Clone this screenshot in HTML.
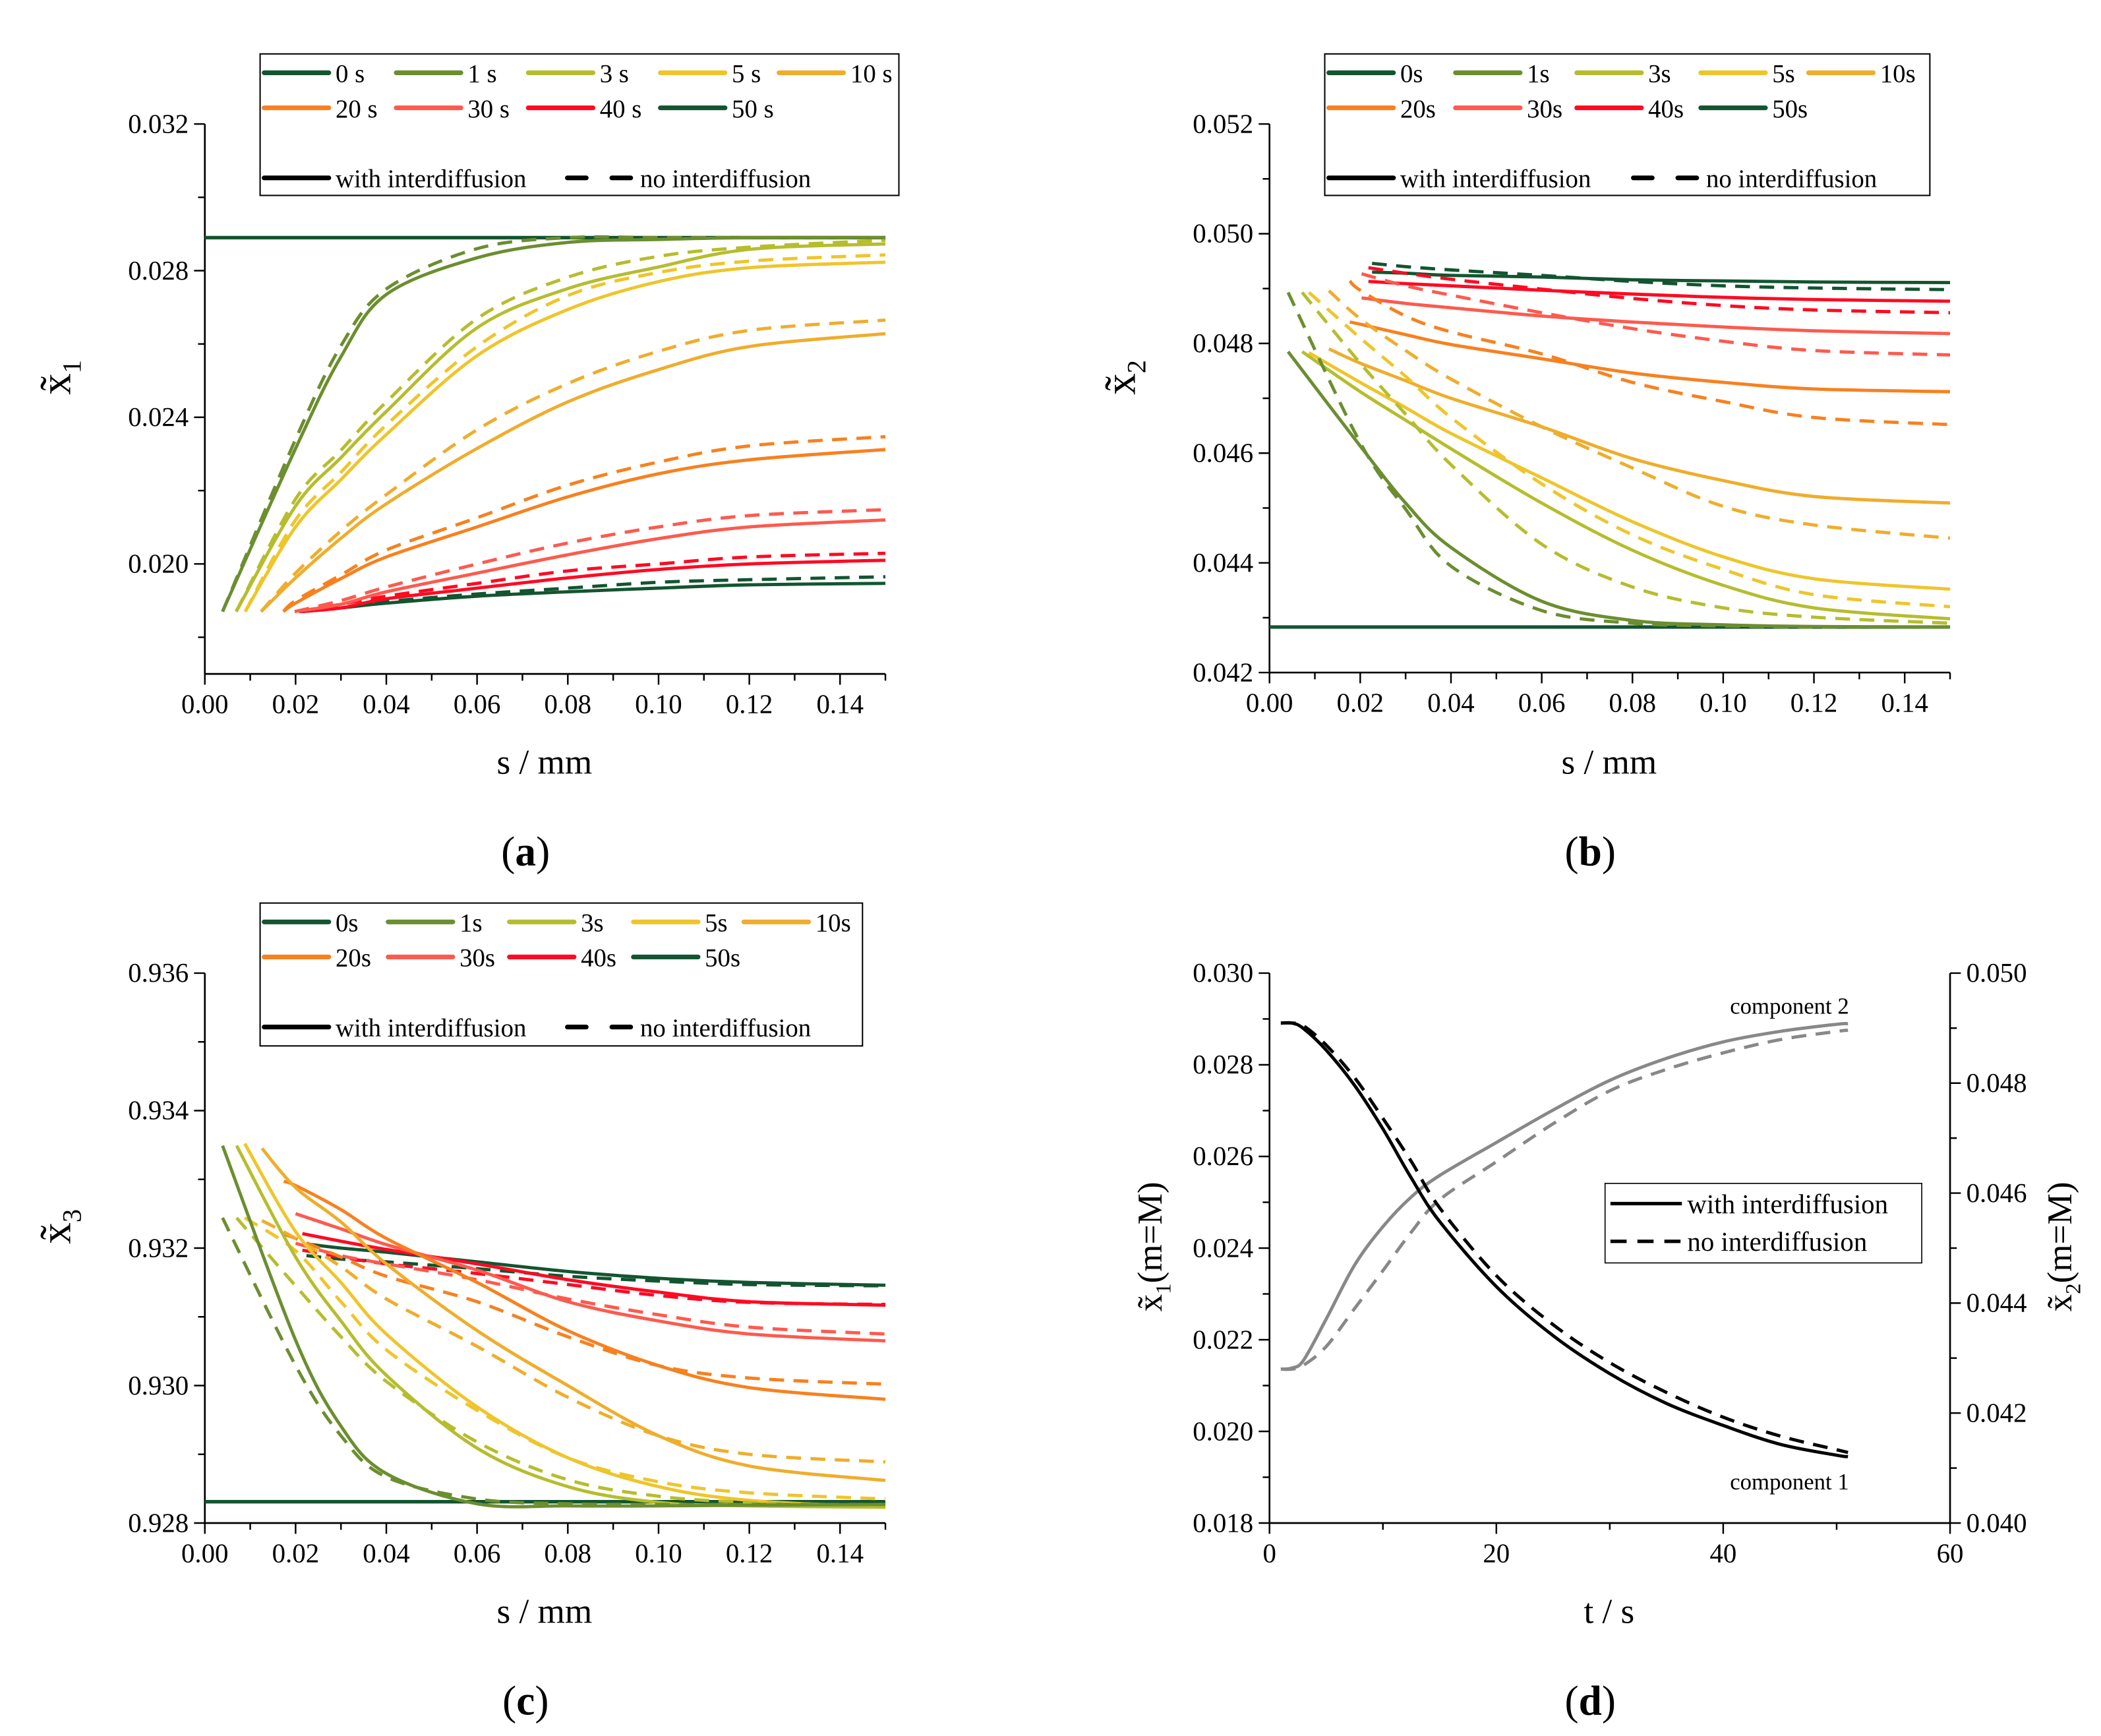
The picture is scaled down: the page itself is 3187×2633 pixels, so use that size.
<!DOCTYPE html>
<html><head><meta charset="utf-8"><style>
html,body{margin:0;padding:0;background:#fff;}
svg{display:block;}
text{font-family:"Liberation Serif","Times New Roman",serif;fill:#000;}
</style></head><body>
<svg id="fig" width="3187" height="2633" viewBox="0 0 1559 1288" preserveAspectRatio="none" xmlns="http://www.w3.org/2000/svg" font-family="Liberation Serif, serif">
<rect x="0" y="0" width="1559" height="1288" fill="#fff"/>
</svg>
<script>
// ---------- shared data ----------
const timeLabels = ["1","3","5","10","20","30","40","50"];
const sGrid = [0.02,0.03,0.04,0.06,0.08,0.10,0.12,0.15];
// panel (a) x1
const aStartS = [0.0039,0.0069,0.0089,0.0124,0.0173,0.0198,0.0208,0.0215];
const aStartSolid = [0.0187,0.0187,0.0187,0.0187,0.0187,0.0187,0.0187,0.0187];
const aStartDash = [0.0187,0.0187,0.0187,0.0187,0.0187,0.0187,0.0187,0.0187];
const aInitial = 0.0289;
const aSolid = [
 [0.02315,0.02565,0.02735,0.02835,0.02877,0.02885,0.0289,0.0289],
 [0.02158,0.0229,0.02416,0.02644,0.02751,0.0281,0.02858,0.02873],
 [0.02101,0.0223,0.02353,0.02568,0.02694,0.0277,0.02808,0.02823],
 [0.01962,0.0207,0.02164,0.02315,0.02442,0.0253,0.02593,0.02628],
 [0.01893,0.0196,0.02019,0.02101,0.02183,0.02246,0.02284,0.02312],
 [null,0.0189,0.01924,0.01975,0.02025,0.02069,0.02101,0.0212],
 [null,0.0188,0.01905,0.01934,0.01962,0.01985,0.02,0.0201],
 [null,0.0188,0.01893,0.01912,0.01924,0.01934,0.01943,0.01947]];
const aDash = [
 [0.0234,0.02595,0.0275,0.0286,0.0289,0.0289,0.0289,0.0289],
 [0.02177,0.0231,0.02442,0.02669,0.02782,0.02839,0.02864,0.02883],
 [0.0212,0.0225,0.02379,0.02593,0.02732,0.02795,0.02826,0.02843],
 [0.01975,0.0209,0.02189,0.02366,0.02492,0.0258,0.02637,0.02665],
 [0.019,0.0197,0.02038,0.02126,0.02215,0.02278,0.02322,0.02347],
 [null,0.019,0.01937,0.02,0.02057,0.02101,0.02132,0.02148],
 [null,0.0189,0.01912,0.01947,0.01981,0.02,0.02019,0.02029],
 [null,0.0188,0.01897,0.01918,0.01934,0.0195,0.01957,0.01965]];
// panel (b) x2
const bStartS = [0.0041,0.0072,0.0087,0.0131,0.0177,0.0203,0.0218,0.0226];
const bStartSolid = [0.04785,0.04785,0.04783,0.0479,0.04839,0.04883,0.04913,0.0493];
const bStartDash = [0.04893,0.04893,0.04893,0.04896,0.04914,0.04927,0.04938,0.04946];
const bInitial = 0.04283;
const bSolid = [
 [0.04613,0.04509,0.04428,0.0433,0.04295,0.04287,0.04284,0.04283],
 [0.04712,0.0466,0.04608,0.04509,0.04423,0.04359,0.04318,0.04298],
 [0.04729,0.04683,0.04636,0.04555,0.04475,0.04411,0.04371,0.04352],
 [0.04764,0.04732,0.047,0.04648,0.0459,0.0455,0.04521,0.04509],
 [0.04835,0.04816,0.04798,0.04772,0.04746,0.04729,0.04717,0.04712],
 [null,0.04873,0.04865,0.0485,0.04839,0.0483,0.04823,0.04818],
 [null,0.04909,0.04905,0.04897,0.0489,0.04884,0.0488,0.04877],
 [null,0.04928,0.04924,0.04921,0.04916,0.04914,0.04912,0.04911]];
const bDash = [
 [0.04619,0.04498,0.04394,0.04313,0.0429,0.04285,0.04283,0.04283],
 [0.04764,0.04671,0.04579,0.04434,0.04356,0.04318,0.04301,0.0429],
 [0.0481,0.0474,0.04665,0.04544,0.04451,0.04388,0.04342,0.0432],
 [0.04845,0.04787,0.04735,0.04648,0.04573,0.04503,0.04469,0.04445],
 [0.04897,0.0485,0.04821,0.04781,0.04729,0.04694,0.04665,0.04652],
 [null,0.04905,0.04888,0.04856,0.04827,0.04804,0.04787,0.04779],
 [null,0.04928,0.04917,0.04899,0.04882,0.04869,0.04861,0.04856],
 [null,0.0494,0.04934,0.04924,0.04913,0.04905,0.04901,0.04898]];
// panel (c) x3
const cStartS = [0.0039,0.007,0.0088,0.0126,0.0174,0.0200,0.0215,0.0224];
const cStartSolid = [0.93349,0.93349,0.93352,0.93345,0.93297,0.9325,0.93221,0.93206];
const cStartDash = [0.93244,0.93244,0.93244,0.9324,0.9322,0.93207,0.93197,0.93189];
const cInitial = 0.92831;
const cSolid = [
 [0.93066,0.92941,0.92872,0.92828,0.92825,0.92825,0.92826,0.92827],
 [0.93187,0.93094,0.93015,0.92909,0.92853,0.9283,0.92825,0.92823],
 [0.93224,0.9315,0.93075,0.92969,0.92895,0.92853,0.92833,0.92823],
 [0.93288,0.93238,0.93177,0.9308,0.93,0.92927,0.92883,0.92862],
 [0.93291,0.93256,0.93214,0.9315,0.9308,0.93029,0.92997,0.9298],
 [null,0.93228,0.93205,0.93168,0.93122,0.93094,0.93075,0.93065],
 [null,0.9321,0.93198,0.93177,0.93154,0.93136,0.93122,0.93117],
 [null,0.932,0.93194,0.9318,0.93166,0.93156,0.9315,0.93146]];
const cDash = [
 [0.93029,0.92927,0.92867,0.92835,0.92828,0.92827,0.92827,0.92827],
 [0.93145,0.93071,0.93006,0.92918,0.92863,0.92839,0.9283,0.92825],
 [0.93196,0.93122,0.93052,0.92964,0.92895,0.9286,0.92844,0.92835],
 [0.93214,0.93173,0.93126,0.93057,0.92983,0.92927,0.929,0.92889],
 [0.93214,0.93187,0.93159,0.93122,0.93071,0.93029,0.93011,0.93002],
 [null,0.93189,0.93177,0.93154,0.93126,0.93103,0.93085,0.93075],
 [null,0.93187,0.93177,0.93163,0.93147,0.93131,0.93121,0.93118],
 [null,0.93184,0.9318,0.9317,0.93159,0.93152,0.93147,0.93145]];
// panel (d)
const dTime = [1,2,3,5,7.5,10,12.5,15,20,25,30,35,40,45,50,51];
const dComp1Solid = [0.02891,0.02891,0.02879,0.02832,0.02755,0.0266,0.02553,0.02458,0.02316,0.02209,0.02126,0.02061,0.02013,0.01972,0.01948,0.01945];
const dComp1Dash = [0.02891,0.02891,0.02885,0.02843,0.02772,0.02683,0.02589,0.02488,0.0234,0.02233,0.0215,0.02085,0.02031,0.0199,0.0196,0.01954];
const dComp2Solid = [0.0428,0.04282,0.04296,0.04371,0.04469,0.04539,0.04593,0.04632,0.04692,0.04751,0.04805,0.04845,0.04875,0.04894,0.04907,0.04908];
const dComp2Dash = [0.0428,0.0428,0.04287,0.04321,0.0439,0.04459,0.04529,0.04588,0.04657,0.04726,0.04786,0.04825,0.04855,0.04879,0.04894,0.04896];

const colors = ["#6b8e2f","#b5bd2d","#eec52b","#efad2c","#f7811f","#fd5a4e","#ff0a22","#125530"];
const initColor = "#125530";
const NS = "http://www.w3.org/2000/svg";
const svg = document.getElementById('fig');
const SERIF = "Liberation Serif, serif";

function el(tag, attrs, parent, txt){
  const e = document.createElementNS(NS, tag);
  for (const k in attrs) e.setAttribute(k, attrs[k]);
  if (tag === 'text') e.setAttribute('font-family', SERIF);
  if (txt !== undefined) e.textContent = txt;
  (parent||svg).appendChild(e);
  return e;
}
function smoothPath(pts){
  if (pts.length < 2) return "";
  let d = "M" + pts[0][0].toFixed(2) + "," + pts[0][1].toFixed(2);
  for (let i=0;i<pts.length-1;i++){
    const p0 = pts[i-1]||pts[i], p1 = pts[i], p2 = pts[i+1], p3 = pts[i+2]||p2;
    const c1 = [p1[0]+(p2[0]-p0[0])/6, p1[1]+(p2[1]-p0[1])/6];
    const c2 = [p2[0]-(p3[0]-p1[0])/6, p2[1]-(p3[1]-p1[1])/6];
    d += " C"+c1[0].toFixed(2)+","+c1[1].toFixed(2)+" "+c2[0].toFixed(2)+","+c2[1].toFixed(2)+" "+p2[0].toFixed(2)+","+p2[1].toFixed(2);
  }
  return d;
}
function makeAxes(P){
  return {
    x: v => P.px0 + (v-P.xmin)/(P.xmax-P.xmin)*(P.px1-P.px0),
    y: v => P.py1 - (v-P.ymin)/(P.ymax-P.ymin)*(P.py1-P.py0)
  };
}

function drawFrame(P, g, ax){
  const a1 = el('line',{x1:P.px0,y1:P.py0,x2:P.px0,y2:P.py1,stroke:'#000','stroke-width':1.3},g);
  
  
  const a2 = el('line',{x1:P.px0,y1:P.py1,x2:P.px1,y2:P.py1,stroke:'#000','stroke-width':1.3},g);
  
  
  for (let i=0;i<P.xcount;i++){
    const v = P.xmin + i*P.xminor;
    const X = ax.x(v);
    const major = i%2===0;
    el('line',{x1:X,y1:P.py1,x2:X,y2:P.py1+(major?8:5),stroke:'#000','stroke-width':1.2},g);
    if (major){
      const t = el('text',{x:X,y:P.py1+29,'text-anchor':'middle','font-size':20},g,v.toFixed(P.xdec));
      
      
    }
  }
  for (let i=0;i<P.ycount;i++){
    const v = P.ytick0 + i*P.ystep;
    const Y = ax.y(v);
    const major = i%2===P.ymajOff;
    el('line',{x1:P.px0,y1:Y,x2:P.px0-(major?8:5),y2:Y,stroke:'#000','stroke-width':1.2},g);
    if (major){
      const t = el('text',{x:P.px0-12,y:Y+6.5,'text-anchor':'end','font-size':20},g,v.toFixed(3));
      
      
    }
  }
}

function drawProfilePanel(P, startS, startSolid, startDash, initial, solid, dash, name){
  const g = el('g',{});
  
  
  const ax = makeAxes(P);
  drawFrame(P, g, ax);
  const init = el('path',{d:"M"+ax.x(P.xmin)+","+ax.y(initial)+" L"+ax.x(P.xmax)+","+ax.y(initial),stroke:initColor,'stroke-width':2.6,fill:'none'},g);
  
  
  for (let k=solid.length-1;k>=0;k--){
    [[solid[k],startSolid[k],null,'solid'],[dash[k],startDash[k],'11 7','dashed']].forEach(item=>{
      const pts = [[ax.x(startS[k]), ax.y(item[1])]];
      item[0].forEach((v,i)=>{ if (v!==null && sGrid[i] > startS[k]+0.002) pts.push([ax.x(sGrid[i]), ax.y(v)]); });
      const attrs = {d:smoothPath(pts),stroke:colors[k],'stroke-width':2.4,fill:'none','stroke-linecap':'butt'};
      if (item[2]) attrs['stroke-dasharray'] = item[2];
      const p = el('path',attrs,g);
      
      
    });
  }
  return g;
}

function drawLegend(L, labels, name){
  const g = el('g',{});
  
  
  el('rect',{x:L.x,y:L.y,width:L.w,height:L.h,fill:'#fff',stroke:'#000','stroke-width':1},g);
  const allColors = [initColor].concat(colors);
  labels.forEach((lab,i)=>{
    const row = Math.floor(i/5), col = i%5;
    const lx = L.cx[col], ly = L.y + (row===0?14:40);
    el('line',{x1:lx,y1:ly,x2:lx+48,y2:ly,stroke:allColors[i],'stroke-width':3.5,'stroke-linecap':'round'},g);
    const t = el('text',{x:lx+53,y:ly+7,'font-size':19},g,lab);
    
    
  });
  const ry = L.y + 92;
  el('line',{x1:L.cx[0],y1:ry,x2:L.cx[0]+48,y2:ry,stroke:'#000','stroke-width':3.5,'stroke-linecap':'round'},g);
  const t1 = el('text',{x:L.cx[0]+53,y:ry+7,'font-size':19},g,'with interdiffusion');
  
  
  el('line',{x1:L.dx,y1:ry,x2:L.dx+48,y2:ry,stroke:'#000','stroke-width':3.5,'stroke-dasharray':'14 19','stroke-linecap':'round'},g);
  const t2 = el('text',{x:L.dx+54,y:ry+7,'font-size':19},g,'no interdiffusion');
  
  
}

function textLabel(x,y,str,size,name){
  const t = el('text',{x:x,y:y,'font-size':size,'text-anchor':'middle'},svg,str);
  
  
  return t;
}
function yTitle(x,y,sub,suffix,name,size){
  const t = el('text',{x:0,y:0,'font-size':size,'text-anchor':'middle',transform:'translate('+x+','+y+') rotate(-90)'},svg);
  
  
  el('tspan',{},t,'x\u0303');
  el('tspan',{'font-size':size*0.62,dy:size*0.25},t,sub);
  if (suffix) el('tspan',{dy:-size*0.25},t,suffix);
  return t;
}
function caption(x,y,letter,name){
  const t = el('text',{x:x,y:y,'font-size':31,'text-anchor':'middle'},svg);
  
  
  el('tspan',{},t,'(');
  el('tspan',{'font-weight':'bold'},t,letter);
  el('tspan',{},t,')');
}

// ---------- panels ----------
const PA = {px0:152,px1:657,py0:92,py1:500,xmin:0,xmax:0.15,ymin:0.017,ymax:0.032,xminor:0.01,xcount:16,xdec:2,ytick0:0.018,ystep:0.002,ycount:8,ymajOff:1};
const PB = {px0:942,px1:1447,py0:92,py1:499,xmin:0,xmax:0.15,ymin:0.042,ymax:0.052,xminor:0.01,xcount:16,xdec:2,ytick0:0.042,ystep:0.001,ycount:11,ymajOff:0};
const PC = {px0:152,px1:657,py0:722,py1:1130,xmin:0,xmax:0.15,ymin:0.928,ymax:0.936,xminor:0.01,xcount:16,xdec:2,ytick0:0.928,ystep:0.001,ycount:9,ymajOff:0};

drawProfilePanel(PA,aStartS,aStartSolid,aStartDash,aInitial,aSolid,aDash,'panel-a-x1');
drawProfilePanel(PB,bStartS,bStartSolid,bStartDash,bInitial,bSolid,bDash,'panel-b-x2');
drawProfilePanel(PC,cStartS,cStartSolid,cStartDash,cInitial,cSolid,cDash,'panel-c-x3');

drawLegend({x:193,y:40,w:474,h:105,cx:[196,294,392,490,578],dx:421},["0 s","1 s","3 s","5 s","10 s","20 s","30 s","40 s","50 s"],'legend-a');
drawLegend({x:983,y:40,w:449,h:105,cx:[986,1080,1170,1262,1342],dx:1212},["0s","1s","3s","5s","10s","20s","30s","40s","50s"],'legend-b');
drawLegend({x:193,y:670,w:447,h:106,cx:[196,288,378,470,552],dx:421},["0s","1s","3s","5s","10s","20s","30s","40s","50s"],'legend-c');

// panel d
(function(){
  const P = {px0:942,px1:1447,py0:722,py1:1130,xmin:0,xmax:60,ymin:0.018,ymax:0.030,xminor:10,xcount:7,xdec:0,ytick0:0.018,ystep:0.001,ycount:13,ymajOff:0};
  const g = el('g',{});
  
  
  const ax = makeAxes(P);
  drawFrame(P,g,ax);
  const yR = v => P.py1 - (v-0.040)/(0.010)*(P.py1-P.py0);
  const ra = el('line',{x1:P.px1,y1:P.py0,x2:P.px1,y2:P.py1,stroke:'#000','stroke-width':1.3},g);
  
  
  for (let i=0;i<=10;i++){
    const v = 0.040 + i*0.001, Y = yR(v), major = i%2===0;
    el('line',{x1:P.px1,y1:Y,x2:P.px1+(major?8:5),y2:Y,stroke:'#000','stroke-width':1.2},g);
    if (major){
      const t = el('text',{x:P.px1+12,y:Y+6.5,'font-size':20},g,v.toFixed(3));
      
      
    }
  }
  const series = [[dComp2Solid,yR,'#888888',null,'component2-with'],[dComp2Dash,yR,'#888888','11 7','component2-no'],
                  [dComp1Solid,ax.y,'#000000',null,'component1-with'],[dComp1Dash,ax.y,'#000000','11 7','component1-no']];
  series.forEach(s=>{
    const pts = dTime.map((t,i)=>[ax.x(t), s[1](s[0][i])]);
    const a = {d:smoothPath(pts),stroke:s[2],'stroke-width':2.4,fill:'none'};
    if (s[3]) a['stroke-dasharray']=s[3];
    const p = el('path',a,g);
    
    
  });
  const t1 = el('text',{x:1372,y:752,'font-size':17,'text-anchor':'end'},g,'component 2');
  
  
  const t2 = el('text',{x:1372,y:1105,'font-size':17,'text-anchor':'end'},g,'component 1');
  
  
  const lg = el('g',{},g);
  
  
  el('rect',{x:1191,y:878,width:235,height:59,fill:'#fff',stroke:'#000','stroke-width':0.8},lg);
  el('line',{x1:1195,y1:893,x2:1248,y2:893,stroke:'#000','stroke-width':2.6},lg);
  el('line',{x1:1195,y1:921,x2:1248,y2:921,stroke:'#000','stroke-width':2.6,'stroke-dasharray':'12 8'},lg);
  const l1 = el('text',{x:1252,y:900,'font-size':20},lg,'with interdiffusion');
  
  
  const l2 = el('text',{x:1252,y:928,'font-size':20},lg,'no interdiffusion');
  
  
})();

// titles
textLabel(404,574,'s / mm',26,'x-axis-title-a');
textLabel(1194,574,'s / mm',26,'x-axis-title-b');
textLabel(404,1204,'s / mm',26,'x-axis-title-c');
textLabel(1194,1204,'t / s',26,'x-axis-title-d');
yTitle(52,280,'1','','y-axis-title-a',32);
yTitle(842,280,'2','','y-axis-title-b',32);
yTitle(52,910,'3','','y-axis-title-c',32);
yTitle(862,925,'1','(m=M)','y-axis-title-d-left',26);
yTitle(1537,925,'2','(m=M)','y-axis-title-d-right',26);
caption(390,642,'a','caption-a');
caption(1180,642,'b','caption-b');
caption(390,1272,'c','caption-c');
caption(1180,1272,'d','caption-d');
</script>
</body></html>
